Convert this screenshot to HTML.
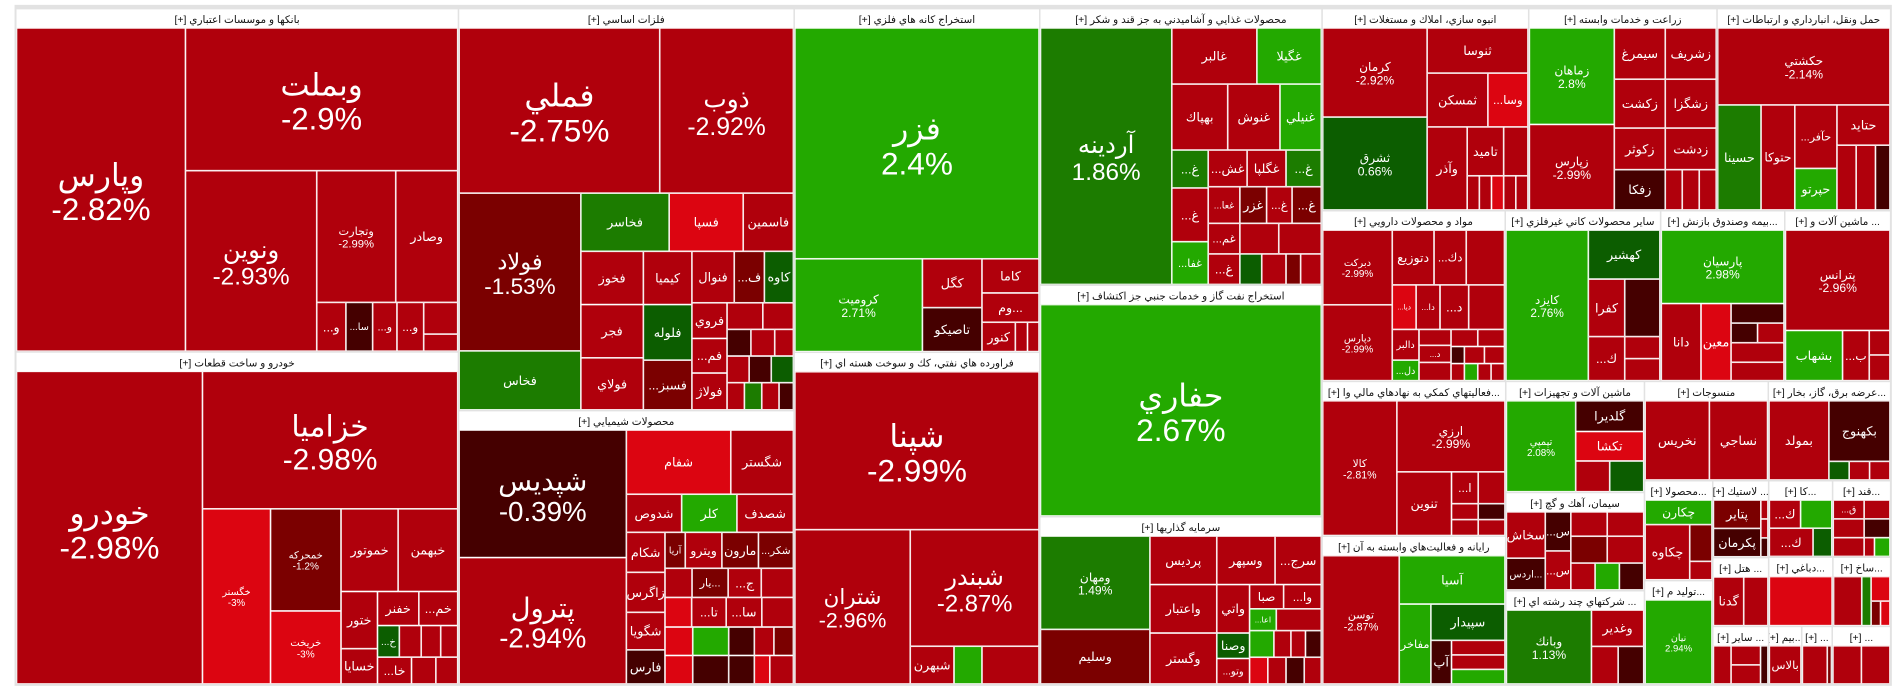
<!DOCTYPE html>
<html><head><meta charset="utf-8">
<style>
html,body{margin:0;padding:0;background:#fff;width:1904px;height:698px;overflow:hidden}
svg{display:block}
text{font-family:"Liberation Sans","DejaVu Sans",sans-serif}
</style></head>
<body>
<svg id="tm" width="1904" height="698" viewBox="0 0 1568 575" preserveAspectRatio="none" xmlns="http://www.w3.org/2000/svg">
<rect x="12" y="4" width="1546" height="561" fill="#e2e2e2"/>
</svg>
<script>
const L=(n,p,v)=>({n:n,p:p,v:v});
const H=(...k)=>({d:'h',k:k});
const V=(...k)=>({d:'v',k:k});
const S=(i)=>({s:i});

const sectorTitles=[
"بانكها و موسسات اعتباري [+]","خودرو و ساخت قطعات [+]","فلزات اساسي [+]","محصولات شيميايي [+]",
"استخراج كانه هاي فلزي [+]","فراورده هاي نفتي، كك و سوخت هسته اي [+]",
"محصولات غذايي و آشاميدني به جز قند و شكر [+]","استخراج نفت گاز و خدمات جنبي جز اكتشاف [+]","سرمايه گذاريها [+]",
"انبوه سازي، املاك و مستغلات [+]","زراعت و خدمات وابسته [+]","حمل ونقل، انبارداري و ارتباطات [+]",
"مواد و محصولات دارويي [+]","ساير محصولات كاني غيرفلزي [+]","...بيمه وصندوق بازنش [+]","... ماشين آلات و [+]",
"...فعاليتهاي كمكي به نهادهاي مالي وا [+]","رايانه و فعاليت‌هاي وابسته به آن [+]",
"ماشين آلات و تجهيزات [+]","سيمان، آهك و گچ [+]","... شركتهاي چند رشته اي [+]",
"منسوجات [+]","...عرضه برق، گاز، بخار [+]",
"...محصولا [+]","...توليد م [+]","... لاستيك [+]","... هتل [+]","... ساير [+]",
"...كا [+]","...قند [+]","...دباغي [+]","...ساخ [+]","...بيم [+]","... [+]","... [+]"];

const sectorValues=[1026,994,911,621,570,551,527,441,320,282,257,237,211,179,143,122,192,184,104,92,88,83,82,46,48,29,26,22,33,30,30,27,13,12,23];

const sectorTrees=[
// banks
H(L("وپارس",-2.82,36835),V(L("وبملت",-2.9,26208),H(L("ونوين",-2.93,15984),V(H(L("وتجارت",-2.99,7020),L("وصادر",-2.97,5508)),H(L("و...",-2.9,960),L("سا...",-0.6,880),L("و...",-2.88,800),L("و...",-2.9,880),V(L("",-2.9,728),L("",-2.9,392))))))),
// auto
H(L("خودرو",-2.98,39321),V(L("خزاميا",-2.98,23730),H(L("خگستر",-3,8064),V(L("خمحرکه",-1.2,4872),L("خريخت",-3,3480)),V(H(L("خموتور",-2.8,3196),L("خبهمن",-2.9,3332)),H(V(L("ختور",-2.9,1410),L("خسايا",-2.9,870)),V(H(L("خفنر",-2.9,952),L("خم...",-2.9,896)),H(L("خ...",0.3,468),L("",-2.9,468),L("",-2.9,416),L("",-2.9,364)),H(L("خا...",-2.9,616),L("",-2.9,440),L("",-2.9,396)))))))),
// metals
V(H(L("فملي",-2.75,21945),L("ذوب",-2.92,14630)),H(V(L("فولاد",-1.53,12707),L("فخاس",1.77,4753)),V(H(L("فخاسر",1.31,3404),L("فسپا",-3,2852),L("فاسمين",-2.9,1932)),H(V(L("فخوز",-2.9,2205),L("فجر",-2.9,2205),L("فولاي",-2.9,2156)),V(L("كيميا",-2.9,1710),L("فلوله",0.5,1786),L("فسبز...",-1.5,1596)),V(H(L("فنوال",-2.9,1444),L("ف...",-1.6,1026),L("كاوه",0.6,988)),H(V(L("فروي",-2.9,832),L("فم...",-2.9,806),L("فولاژ",-2.9,858)),V(H(L("",-2.9,630),L("",-2.9,540)),H(L("",-0.5,420),L("",-2.9,420),L("",-2.9,330)),H(L("",-2.9,390),L("",-0.5,390),L("",0.4,390)),H(L("",-2.9,312),L("",1.5,312),L("",-2.9,312),L("",-0.5,258))))))))),
// chemicals
H(V(L("شپديس",-0.39,14595),L("پترول",-2.94,14456)),V(H(L("شفام",-3,4590),L("شگستر",-2.9,2754)),H(L("شدوص",-2.9,1440),L("كلر",2.4,1440),L("شصدف",-2.9,1472)),H(V(L("شكام",-2.9,1056),L("زاگرس",-2.9,1056),L("شگويا",-2.9,990),L("فارس",-0.5,900)),V(H(L("آريا",-1.5,500),L("ويترو",-2.9,900),L("مارون",-1.6,900),L("شكر...",-1.6,860)),H(L("",-2.9,540),L("...يار",-1.6,720),L("ج...",-2.9,660),L("",-2.9,640)),H(L("",-3,540),L("تا...",-2.9,700),L("سا...",-2.9,720),L("",-2.9,640)),H(L("",-3,540),L("",2.4,700),L("",-0.5,500),L("",-2.9,380),L("",-1.5,380)),H(L("",-3,540),L("",-0.5,700),L("",-0.5,500),L("",-3,300),L("",-2.9,460)))))),
// mining
V(L("فزر",2.4,37989),H(L("كروميت",2.71,7980),V(L("كگل",-2.9,1960),L("تاصيكو",-0.5,1764)),V(L("كاما",-2.9,1316),L("...وم",-2.9,1128),H(L("كنور",-2.9,660),L("",-2.9,240),L("",-2.9,228))))),
// refining
V(L("شپنا",-2.99,26130),H(L("شتران",-2.96,12065),V(L("شبندر",-2.87,10176),H(L("شبهرن",-2.9,1116),L("",2.5,713),L("",-2.9,1457))))),
// food
H(L("آردينه",1.86,22680),V(H(L("غالبر",-2.9,3220),L("غگيلا",2.5,2438)),H(L("بهپاك",-2.9,2484),L("غنوش",-2.9,2322),L("غنيلي",2.3,1836)),H(V(L("غ...",1.5,930),L("غ...",-2.9,1320),L("غفا...",2.4,1050)),V(H(L("غش...",-2.9,960),L("غگلپا",-2.9,960),L("غ...",1.4,870)),H(L("غعا...",-2.9,780),L("غزر",-1.5,660),L("غ...",-2.9,630),L("غ...",-1.5,720)),H(L("غم...",-2.9,650),L("",-2.9,800),L("",-2.9,875)),H(L("غ...",-2.9,650),L("",0.5,450),L("",-2.9,500),L("",-1.5,300),L("",-2.9,425)))))),
// oil extraction
L("حفاري",2.67,1),
// investments
H(V(L("ومهان",1.49,6930),L("وسليم",-1.57,4050)),V(L("پرديس",-2.9,2200),L("واعتبار",-2.9,2200),L("وگستر",-2.9,2310)),V(H(L("وسپهر",-2.9,1920),L("سرج...",-2.9,1520)),H(V(L("واتي",-2.9,1080),L("وصنا",0.4,567),L("وتو...",-2.9,567)),V(H(L("صبا",-2.9,560),L("وا...",-2.9,620)),H(L("اعا...",2.2,396),L("",-2.9,666)),H(L("",2.5,440),L("",-2.9,308),L("",-2.9,264),L("",-0.5,286)),H(L("",-3,330),L("",-2.9,330),L("",-0.5,330),L("",-2.9,308)))))),
// mass construction
H(V(L("كرمان",-2.92,6278),L("ثشرق",0.66,6536)),V(L("ثنوسا",-2.9,3071),H(L("ثمسكن",-2.9,2200),L("وسا...",-3,1452)),H(L("وآذر",-2.9,2244),V(L("تاميد",-2.9,1200),H(L("",-2.9,280),L("",-2.9,280),L("",-3,280))),V(L("",-2.9,800),H(L("",-2.9,280),L("",-2.9,280)))))),
// agriculture
H(V(L("زماهان",2.8,5530),L("زپارس",-2.99,4900)),V(H(L("سيمرغ",-2.9,1764),L("زشريف",-2.9,1764)),H(L("زكشت",-2.9,1680),L("زشگزا",-2.9,1680)),H(V(L("زكوثر",-2.9,1428),L("زفكا",-0.5,1386)),V(L("زدشت",-2.9,1428),H(L("",-2.9,462),L("",-2.9,462),L("",-2.9,462)))))),
// transport
V(L("حكشتي",-2.14,9009),H(L("حسينا",1.5,3096),L("حتوكا",-2.9,2408),V(L("حآفر...",-2.9,1820),L("حپرتو",2.6,1190)),V(L("حتايد",-2.9,1452),H(L("",-2.9,848),L("",-2.9,848),L("",-0.5,636))))),
// pharma
H(V(L("دبركت",-2.99,3416),L("دپارس",-2.99,3472)),V(H(L("دتوزيع",-2.9,1505),L("دك...",-2.9,1161),L("",-2.9,1376)),H(L("ديا...",-3,700),L("دا...",-2.9,700),L("د...",-2.9,840),L("",-2.9,1050)),H(V(L("دالبر",-2.9,540),L("دل...",2.4,360)),V(L("دز...",-2.9,336),L("د...",-2.9,360),L("",-2.9,384)),V(H(L("",-2.9,300),L("",-2.9,300)),H(L("",-0.5,150),L("",-2.9,225),L("",-2.9,225)),H(L("",-2.9,150),L("",2.3,150),L("",-2.9,150),L("",-2.9,150)))))),
// non-metal
H(L("كايزد",2.76,8364),V(L("كهشير",0.5,2360),H(L("كفرا",-2.9,1410),L("",-0.5,1363)),H(L("ك...",-2.9,1080),V(L("",-2.9,522),L("",-2.9,522))))),
// insurance
V(L("پارسيان",2.98,6120),H(L("دانا",-2.9,2079),L("معين",-3,1575),V(L("",-0.5,704),H(L("",-0.5,352),L("",-2.9,352)),L("",-2.9,704),L("",-2.9,660)))),
// machinery
V(L("پترانس",-2.96,7052),H(L("بشهاب",2.5,1927),L("ب...",-2.9,902),V(L("",-2.9,340),L("",-2.9,357)))),
// financial
H(L("كالا",-2.81,6710),V(L("ارزي",-2.99,5162),H(L("تنوين",-2.9,2340),V(H(L("ا...",-2.9,572),L("",-2.9,572)),H(L("",-2.9,286),L("",-0.5,286)),H(L("",-2.9,286),L("",-2.9,286)))))),
// computer
H(L("توسن",-2.87,6678),V(L("آسيا",2.5,3480),H(L("مفاخر",2.4,1716),V(L("سپيدار",0.4,1830),H(L("آپ",-0.5,612),V(L("",-2.9,528),L("",-2.9,528),L("",2.3,528))))))),
// machinery & equipment
H(L("تپمپي",2.08,4218),V(L("گلديرا",-0.5,1400),L("تكشا",-3,1344),H(L("",-2.9,700),L("",0.4,700)))),
// cement
H(V(L("سخاش",-2.9,1216),L("...اردس",-0.5,832)),V(L("س...",-0.5,672),L("س...",-2.9,672)),V(H(L("",-2.9,600),L("",-2.9,600)),H(L("",-1.5,660),L("",-2.9,660)),H(L("",-2.9,440),L("",2.3,440),L("",-0.5,440)))),
// multi-industry
H(L("وبانك",1.13,4270),V(L("وغدير",-2.9,1290),H(L("",-2.9,682),L("",-0.5,651)))),
// textiles
H(L("نخريس",-2.72,3392),L("نساجي",-2.6,3072)),
// power
H(L("بمولد",-2.5,3200),V(L("بكهنوج",-0.34,2499),H(L("",0.5,255),L("",-2.9,255),L("",-2.9,255)))),
// small sectors
V(L("چكارن",2.5,2),H(L("چكاوه",-2.9,3),V(L("",-1.5,1),L("",-2.9,0.5)))),
L("نيان",2.94,1),
H(V(L("پتاير",-1.5,1),L("پكرمان",-0.5,1)),V(L("",-2.9,0.1),L("",-2.9,0.1),L("",-0.5,0.1))),
H(L("گدنا",-2.9,2),L("",-2.9,1.6)),
H(L("و...",-2.9,1.2),V(L("",-2.9,1),L("",-2.9,1)),L("",-0.5,0.5)),
V(H(L("ك...",-2.9,1),L("",2.4,1)),H(L("ك...",-2.9,1.4),L("",0.5,0.6))),
V(H(L("ق...",-2.9,1.2),L("",-2.9,1)),H(L("",-2.9,1.2),L("",-0.5,1)),H(L("",-2.9,1.2),L("",-2.9,0.4),L("",2.4,0.6))),
L("",-3,1),
H(L("",-2.9,3),L("",1.5,1),V(L("",-3,1),H(L("",-1.5,0.5),L("",-3,0.5)))),
L("بالاس",-2.9,1),
H(L("",-2.9,3),L("",-1.5,0.5)),
H(L("",-2.9,1),L("",-2.9,1))
];

const root=H(V(S(0),S(1)),V(S(2),S(3)),V(S(4),S(5)),V(S(6),S(7),S(8)),
 V(H(S(9),S(10),S(11)),H(S(12),S(13),S(14),S(15)),
   H(V(S(16),S(17)),V(S(18),S(19),S(20)),
     V(H(S(21),S(22)),H(V(S(23),S(24)),V(S(25),S(26),S(27)),V(H(S(28),S(29)),H(S(30),S(31)),H(S(32),S(33),S(34))))))));

const NS='http://www.w3.org/2000/svg';
const svg=document.getElementById('tm');
function val(n){ if(n.s!==undefined) return sectorValues[n.s]; if(n.k) return n.k.reduce((a,c)=>a+val(c),0); return n.v; }
function color(p){
  if(p<=-2.995) return '#dc0511';
  if(p<=-2) return '#b0000c';
  if(p<=-1) return '#7b0000';
  if(p<0) return '#450000';
  if(p<1) return '#0c5d00';
  if(p<2) return '#1c7c00';
  return '#23a900';
}
function mk(tag,attrs,parent){const e=document.createElementNS(NS,tag);for(const k in attrs)e.setAttribute(k,attrs[k]);parent.appendChild(e);return e;}
function draw(n,x,y,w,h){
  if(n.s!==undefined){drawSector(n.s,x,y,w,h);return;}
  if(n.k){const t=val(n);let o=0;for(const c of n.k){const f=val(c)/t;
    if(n.d==='h'){draw(c,x+o,y,w*f,h);o+=w*f;}else{draw(c,x,y+o,w,h*f);o+=h*f;}}return;}
  drawLeaf(n,x,y,w,h);
}
function drawSector(i,x,y,w,h){
  const g=mk('svg',{x:x+0.6,y:y+0.6,width:Math.max(0,w-1.2),height:Math.max(0,h-1.2),overflow:'hidden'},svg);
  
  
  mk('rect',{x:0,y:0,width:w,height:h,fill:'#ffffff'},g);
  const t=mk('text',{x:(w-1.2)/2,y:11.3,'font-size':8.6,fill:'#111','text-anchor':'middle',direction:'rtl'},g);
  t.textContent=sectorTitles[i];
  
  
  draw(sectorTrees[i],x+0.6,y+16,w-1.2,h-16.6);
}
function drawLeaf(n,x,y,w,h){
  const g=mk('svg',{x:x,y:y,width:Math.max(0,w),height:Math.max(0,h),overflow:'hidden'},svg);
  
  
  mk('rect',{x:0,y:0,width:w,height:h,fill:color(n.p),stroke:'#ffffff','stroke-width':1.3},g);
  if(!n.n) return;
  const cx=w/2,cy=h/2;
  let fs=0,two=false;
  if(w>=88&&h>=88){fs=Math.min(26,w/5.4,h/4.6);two=true;}
  else if(w>=55&&h>=55){fs=Math.min(10,w/7);two=true;}
  else if(w>=16&&h>=14){fs=Math.min(10.5,h*0.5,w/(n.n.length*0.55));}
  if(fs<4) return;
  if(two){
    const a=mk('text',{x:cx,y:cy-fs*0.12,'font-size':fs,fill:'#fff','text-anchor':'middle',direction:'rtl'},g);a.textContent=n.n;
    
    
    const b=mk('text',{x:cx,y:cy+fs*0.98,'font-size':fs,fill:'#fff','text-anchor':'middle',direction:'ltr'},g);b.textContent=n.p+'%';
    
    
  }else{
    const a=mk('text',{x:cx,y:cy+fs*0.35,'font-size':fs,fill:'#fff','text-anchor':'middle',direction:'rtl'},g);a.textContent=n.n;
    
    
  }
}
draw(root,13,7,1544,557);
</script>
</body></html>
